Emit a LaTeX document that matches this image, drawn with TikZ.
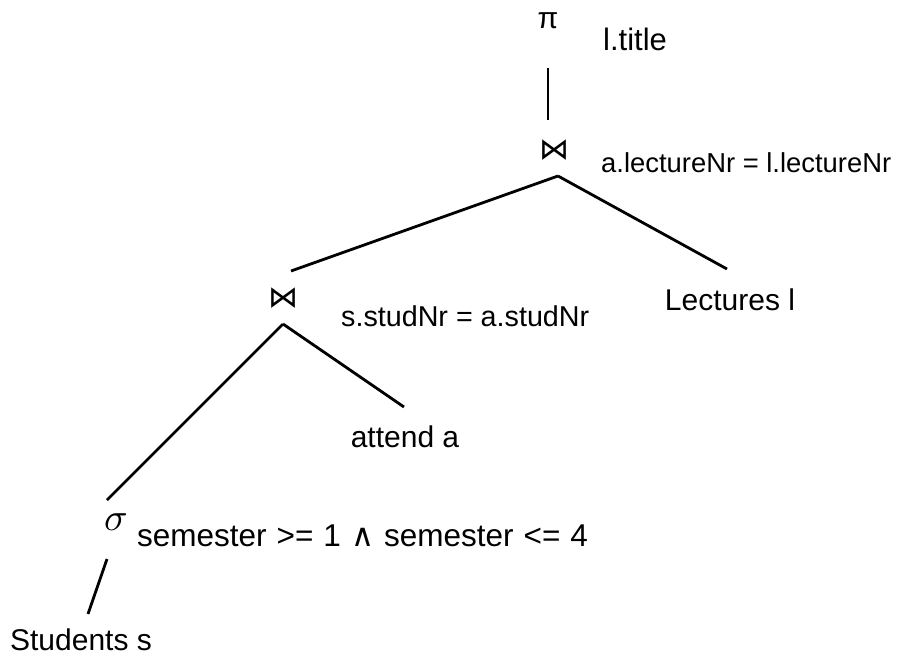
\documentclass[tikz,border=0pt]{standalone}
\usepackage{fontspec}
\usepackage{graphicx}
\setmainfont{Liberation Sans}
\newfontfamily\symfont{DejaVu Sans}
\begin{document}
\begin{tikzpicture}[x=1pt,y=-1pt,
  edge/.style={line width=2.8pt},
  lbl/.style={anchor=base west,inner sep=0pt,font=\fontsize{27.4}{30}\selectfont},
  rel/.style={anchor=base,inner sep=0pt,font=\fontsize{30}{34}\selectfont},
  op/.style={inner sep=0pt,font=\fontsize{30}{32}\selectfont}]
\useasboundingbox (0,0) rectangle (897,659);
% operators
\node[op] (pi) at (548,21) {π};
\node[op,font=\symfont\fontsize{30}{32}\selectfont] (j1) at (554,150) {⋈};
\node[op,font=\symfont\fontsize{30}{32}\selectfont] (j2) at (283,298) {⋈};
\node[op,font=\fontsize{10}{12}\selectfont] (sg) at (116,522) {\scalebox{3.9}{$\sigma$}};
% labels
\node[lbl,font=\fontsize{31}{33}\selectfont] (l1) at (603,50) {l.title};
\node[lbl] (l2) at (601,172) {a.lectureNr = l.lectureNr};
\node[lbl,font=\fontsize{28.7}{31}\selectfont] (l3) at (341,326) {s.studNr = a.studNr};
\node[lbl,font=\fontsize{31.5}{33}\selectfont] (l4) at (137,546) {\spaceskip=10pt\relax semester >= 1 {\symfont ∧} semester <= 4};
% relations
\node[rel] (lec) at (730,310) {Lectures l};
\node[rel] (att) at (405,447) {attend a};
\node[rel] (stu) at (81,650) {Students s};
% connector ends
\coordinate (pib) at (548,68);
\coordinate (j1t) at (548,120);
\coordinate (j1b) at (558,176);
\coordinate (j2t) at (291,271);
\coordinate (lect) at (727,269);
\coordinate (j2b) at (283,324);
\coordinate (sgt) at (107,500);
\coordinate (attt) at (404,407);
\coordinate (sgb) at (107,559);
\coordinate (stut) at (88,614);
\draw[edge] (pib) -- (j1t);
\draw[edge] (j1b) -- (j2t);
\draw[edge] (j1b) -- (lect);
\draw[edge] (j2b) -- (sgt);
\draw[edge] (j2b) -- (attt);
\draw[edge] (sgb) -- (stut);
\end{tikzpicture}
\end{document}
